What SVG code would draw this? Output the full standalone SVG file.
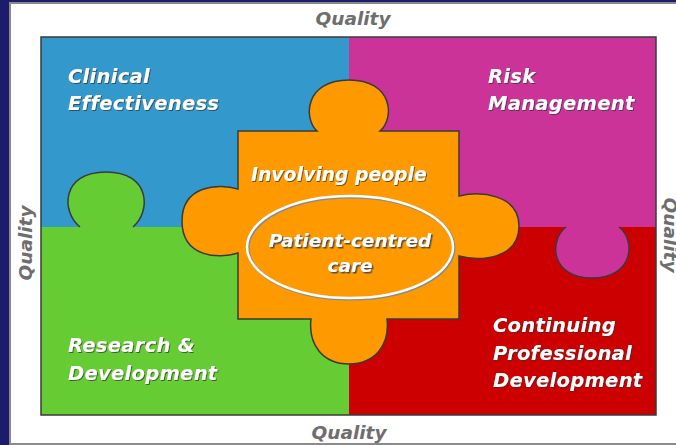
<svg xmlns="http://www.w3.org/2000/svg" width="676" height="445" viewBox="0 0 676 445">
  <defs>
    <filter id="sh" x="-10%" y="-30%" width="120%" height="160%">
      <feDropShadow dx="1" dy="1" stdDeviation="0.6" flood-color="#333" flood-opacity="0.7"/>
    </filter>
    <filter id="sh2" x="-10%" y="-30%" width="120%" height="160%">
      <feDropShadow dx="1.5" dy="1.5" stdDeviation="0.5" flood-color="#444" flood-opacity="0.9"/>
    </filter>
  </defs>
  <style>
    .lbl { font-family: "DejaVu Sans", Verdana, sans-serif; font-weight: bold; font-style: italic; font-size: 19.5px; letter-spacing: 0.3px; fill: #ffffff; }
    .q { font-family: "DejaVu Sans", Verdana, sans-serif; font-weight: bold; font-style: italic; font-size: 18.5px; fill: #6e6e6e; text-anchor: middle; }
    .edge { fill: none; stroke: #3a3a3a; stroke-width: 1.5; }
    .knob { stroke: #3a3a3a; stroke-width: 1.5; }
  </style>

  <rect x="0" y="0" width="676" height="445" fill="#1d1b6b"/>
  <rect id="panel" x="10" y="3" width="680" height="441" fill="#ffffff" stroke="#8a8a8a" stroke-width="2"/>

  <g id="quality-labels">
    <text class="q" x="353" y="25">Quality</text>
    <text class="q" x="349" y="439">Quality</text>
    <text class="q" transform="translate(32,243) rotate(-90)">Quality</text>
    <text class="q" transform="translate(664,235) rotate(90)">Quality</text>
  </g>

  <g id="clinical-effectiveness">
    <rect x="41" y="37" width="308" height="190" fill="#3399cc"/>
    <text class="lbl" filter="url(#sh)"><tspan x="68" y="83">Clinical</tspan><tspan x="68" y="110">Effectiveness</tspan></text>
  </g>
  <g id="risk-management">
    <rect x="349" y="37" width="307" height="190" fill="#cc3399"/>
    <text class="lbl" filter="url(#sh)"><tspan x="488" y="83">Risk</tspan><tspan x="488" y="110">Management</tspan></text>
  </g>
  <g id="research-development">
    <rect x="41" y="227" width="308" height="188" fill="#66cc33"/>
    <path class="knob" fill="#66cc33" d="M 80,227 C 61,212 61,172 106,172 C 151,172 151,212 133,227"/>
    <text class="lbl" filter="url(#sh)"><tspan x="68" y="352">Research &amp;</tspan><tspan x="68" y="380">Development</tspan></text>
  </g>
  <g id="continuing-professional-development">
    <rect x="349" y="227" width="307" height="188" fill="#cc0000"/>
    <path class="knob" fill="#cc3399" d="M 566,227 C 549,240 550,278 592,278 C 634,278 636,240 619,227"/>
    <text class="lbl" filter="url(#sh)"><tspan x="493" y="332">Continuing</tspan><tspan x="493" y="360">Professional</tspan><tspan x="493" y="387">Development</tspan></text>
  </g>
  <rect class="edge" x="41" y="37" width="615" height="378"/>

  <g id="involving-people">
    <path fill="#ff9900" stroke="#3a3a3a" stroke-width="1.5" d="M 238,131 L 317,131 C 303,118 305,80 349,80 C 393,80 395,118 380,131 L 459,131 L 459,196 C 480,191 519,194 519,226 C 519,259 480,262 459,256 L 459,319 L 387,319 C 390,345 375,364 349,364 C 323,364 308,345 311,319 L 238,319 L 238,253 C 219,259 182,258 182,221 C 182,185 219,183 238,189 Z"/>
    <text class="lbl" x="251" y="181" style="font-size:18.8px;letter-spacing:0" filter="url(#sh)">Involving people</text>
  </g>

  <g id="patient-centred-care">
    <ellipse cx="351" cy="248" rx="103" ry="51" fill="none" stroke="#8a8a8a" stroke-width="3"/>
    <ellipse cx="350" cy="247" rx="103" ry="51" fill="none" stroke="#ffffff" stroke-width="2.5"/>
    <text class="lbl" style="font-size:18.5px;letter-spacing:0" text-anchor="middle" filter="url(#sh2)"><tspan x="350" y="247">Patient-centred</tspan><tspan x="350" y="272">care</tspan></text>
  </g>
</svg>
